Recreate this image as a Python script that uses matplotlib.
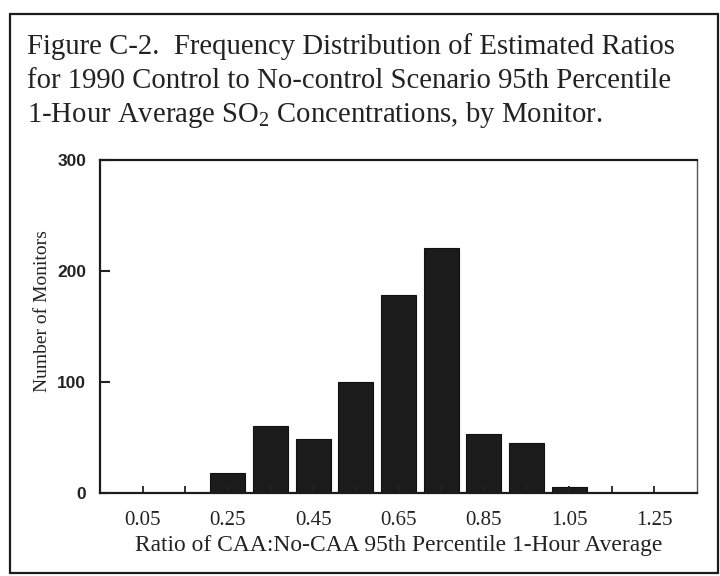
import matplotlib
matplotlib.use("Agg")
import matplotlib.pyplot as plt
from matplotlib.patches import Rectangle

# Histogram of monitor ratios (bin centres) and monitor counts per bin
ratio_bins = ["0.05", "0.15", "0.25", "0.35", "0.45", "0.55", "0.65",
              "0.75", "0.85", "0.95", "1.05", "1.15", "1.25"]
monitor_counts = [0, 0, 18, 60, 49, 100, 178, 221, 53, 45, 5, 0, 0]
tick_labels = ["0.05", "", "0.25", "", "0.45", "", "0.65", "",
               "0.85", "", "1.05", "", "1.25"]
y_ticks = [0, 100, 200, 300]

plt.rcParams["mathtext.default"] = "regular"
serif = ["Liberation Serif", "DejaVu Serif"]
sans = ["Liberation Sans", "DejaVu Sans"]

fig = plt.figure(figsize=(7.2, 5.76), dpi=100)
fig.patch.set_facecolor("white")

# Outer frame around the whole figure
fig.patches.append(Rectangle((10 / 720, 1 - 573 / 576), 708 / 720, 559 / 576,
                             transform=fig.transFigure, fill=False,
                             edgecolor="#1c1c1c", linewidth=1.6))

title_lines = [
    "Figure C-2.  Frequency Distribution of Estimated Ratios",
    "for 1990 Control to No-control Scenario 95th Percentile",
    "1-Hour Average SO$_2$ Concentrations, by Monitor.",
]
for i, line in enumerate(title_lines):
    fig.text(27 / 720, 1 - (54 + 34 * i) / 576, line, family=serif,
             fontsize=20.7, color="#222222", ha="left", va="baseline")

ax = fig.add_axes([100 / 720, 1 - 493 / 576, 597 / 720, 333 / 576])
x = list(range(len(ratio_bins)))
ax.bar(x, monitor_counts, width=0.82, color="#1b1b1b", edgecolor="#111111",
       linewidth=0.8)

ax.set_xlim(-1.0, 13.0)
ax.set_ylim(0, 300)
ax.set_xticks(x)
ax.set_xticklabels(tick_labels, family=serif, fontsize=15, color="#222222")
ax.set_yticks(y_ticks)
ax.set_yticklabels([str(v) for v in y_ticks], family=sans, fontsize=12.5,
                   fontweight="bold", color="#222222")
ax.tick_params(axis="x", direction="in", length=5, width=1.3, pad=13,
               colors="#222222")
ax.tick_params(axis="y", direction="in", length=7, width=1.5, pad=10,
               colors="#222222")

for side, spine in ax.spines.items():
    spine.set_linewidth(1.6)
    spine.set_color("#1c1c1c")
ax.spines["right"].set_linewidth(1.0)
ax.spines["right"].set_color("#555555")

ax.set_xlabel("Ratio of CAA:No-CAA 95th Percentile 1-Hour Average",
              family=serif, fontsize=16.9, color="#222222")
ax.xaxis.set_label_coords(0.5, -(546 - 493) / 333, transform=ax.transAxes)
ax.xaxis.label.set_va("center")
ax.set_ylabel("Number of Monitors", family=serif, fontsize=14,
              color="#222222")
ax.yaxis.set_label_coords((43 - 100) / 597, (493 - 311) / 333,
                          transform=ax.transAxes)
ax.yaxis.label.set_va("center")

fig.savefig("out.png", dpi=100, facecolor="white")
